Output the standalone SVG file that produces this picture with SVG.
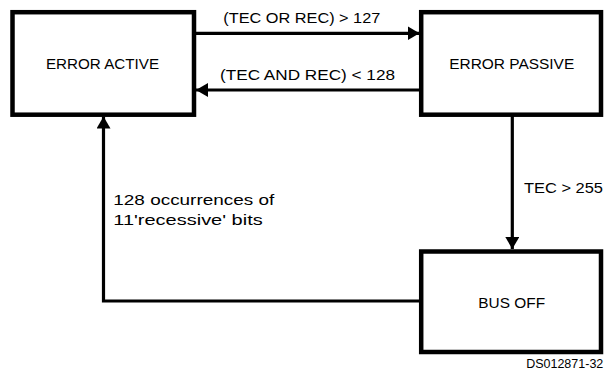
<svg xmlns="http://www.w3.org/2000/svg" width="609" height="373" viewBox="0 0 609 373">
  <style>
    .box { fill: #ffffff; stroke: #000000; stroke-width: 4.5; }
    .lbl { font-family: "Liberation Sans", Arial, sans-serif; font-size: 15px; fill: #000000; }
    .c { text-anchor: middle; }
    .edge { fill: none; stroke: #000000; stroke-width: 3.2; }
    .tag { font-family: "Liberation Sans", Arial, sans-serif; font-size: 12.5px; fill: #000000; text-anchor: end; }
  </style>
  <defs>
    <marker id="arrow" markerWidth="12" markerHeight="14" refX="12" refY="7" orient="auto" markerUnits="userSpaceOnUse">
      <path d="M0,0 L12,7 L0,14 Z" fill="#000000"/>
    </marker>
  </defs>
  <rect width="609" height="373" fill="#ffffff"/>

  <g id="connectors">
    <line class="edge" x1="194" y1="33.3" x2="419.5" y2="33.3" marker-end="url(#arrow)"/>
    <line class="edge" x1="421" y1="90" x2="196" y2="90" marker-end="url(#arrow)"/>
    <line class="edge" x1="512.3" y1="115" x2="512.3" y2="249" marker-end="url(#arrow)"/>
    <polyline class="edge" points="421,301 103.5,301 103.5,116.5" marker-end="url(#arrow)"/>
    <text class="lbl" x="223.3" y="23.3" textLength="157" lengthAdjust="spacingAndGlyphs">(TEC OR REC) &gt; 127</text>
    <text class="lbl" x="220" y="80" textLength="175" lengthAdjust="spacingAndGlyphs">(TEC AND REC) &lt; 128</text>
    <text class="lbl" x="524" y="193" textLength="79" lengthAdjust="spacingAndGlyphs">TEC &gt; 255</text>
    <text class="lbl" x="113.3" y="205" textLength="161" lengthAdjust="spacingAndGlyphs">128 occurrences of</text>
    <text class="lbl" x="113.3" y="225" textLength="149.4" lengthAdjust="spacingAndGlyphs">11'recessive' bits</text>
  </g>

  <g id="error-active">
    <rect class="box" x="12.5" y="12.2" width="181.5" height="102.5"/>
    <text class="lbl c" x="102.5" y="68.5" textLength="113" lengthAdjust="spacingAndGlyphs">ERROR ACTIVE</text>
  </g>

  <g id="error-passive">
    <rect class="box" x="421.2" y="12.2" width="179.8" height="102.5"/>
    <text class="lbl c" x="511.7" y="69" textLength="125" lengthAdjust="spacingAndGlyphs">ERROR PASSIVE</text>
  </g>

  <g id="bus-off">
    <rect class="box" x="421.2" y="251.5" width="179.8" height="100.5"/>
    <text class="lbl c" x="511.7" y="308.3" textLength="66.7" lengthAdjust="spacingAndGlyphs">BUS OFF</text>
  </g>

  <text class="tag" x="603.3" y="367.7">DS012871-32</text>
</svg>
